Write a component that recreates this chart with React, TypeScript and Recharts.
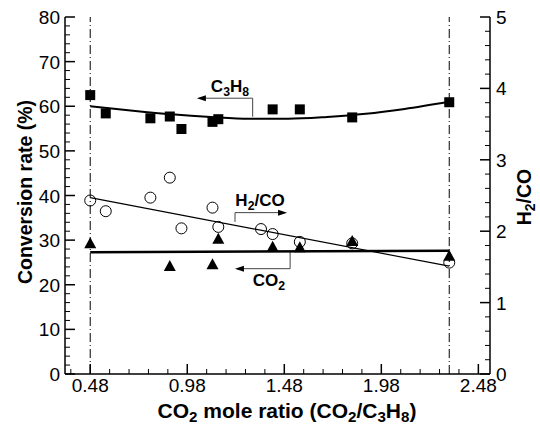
import { ComposedChart, XAxis, YAxis, Line, Scatter, ReferenceLine } from "recharts"

const sqRatio = [0.48, 0.56, 0.79, 0.89, 0.95, 1.11, 1.14, 1.42, 1.56, 1.83, 2.33]
const c3h8Conv = [62.5, 58.4, 57.3, 57.7, 54.9, 56.5, 57.1, 59.3, 59.3, 57.5, 60.9]

const circRatio = [0.48, 0.56, 0.79, 0.89, 0.95, 1.11, 1.14, 1.36, 1.42, 1.56, 1.83, 2.33]
const h2coRatio = [2.43, 2.28, 2.47, 2.75, 2.04, 2.33, 2.06, 2.03, 1.96, 1.85, 1.83, 1.56]

const triRatio = [0.48, 0.89, 1.11, 1.14, 1.42, 1.56, 1.83, 2.33]
const co2Conv = [29.3, 24.2, 24.6, 30.3, 28.5, 28.4, 29.8, 26.5]

// fitted curves as drawn
const c3h8FitX = [0.48, 0.7, 0.9, 1.1, 1.3, 1.5, 1.7, 1.9, 2.1, 2.33]
const c3h8FitY = [60.0, 59.0, 58.2, 57.6, 57.2, 57.2, 57.6, 58.3, 59.4, 61.0]
const h2coFitX = [0.48, 2.33]
const h2coFitY = [2.47, 1.51]
const co2FitX = [0.48, 2.33]
const co2FitY = [27.3, 27.6]

const refRatios = [0.48, 2.33]

const xMajor = [0.48, 0.98, 1.48, 1.98, 2.48]
const leftMajor = [0, 10, 20, 30, 40, 50, 60, 70, 80]
const rightMajor = [0, 1, 2, 3, 4, 5]

const X_DOMAIN: [number, number] = [0.35, 2.54]
const FONT = "'Liberation Sans', Arial, sans-serif"

// plot box in px (matches chart margins / axis sizes below)
const PL = 65, PT = 17, PW = 425, PH = 357
const sx = (v: number) => PL + ((v - X_DOMAIN[0]) / (X_DOMAIN[1] - X_DOMAIN[0])) * PW
const syL = (v: number) => PT + PH - (v / 80) * PH
const syR = (v: number) => PT + PH - (v / 5) * PH

const steps = (from: number, to: number, step: number) => {
	const out: number[] = []
	for (let v = from; v <= to + 1e-9; v += step) out.push(Math.round(v * 1000) / 1000)
	return out
}
const xTicks = steps(0.38, 2.54, 0.1)
const leftTicks = steps(0, 80, 2)
const rightTicks = steps(0, 5, 0.2)

const pts = (xs: number[], ys: number[]) => xs.map((x, i) => ({ x, y: ys[i] }))
const isMajor = (v: number, list: number[]) => list.some((m) => Math.abs(m - v) < 1e-6)

const TICK_FS = 19

const BottomTick = ({ x, y, payload }: any) => {
	const major = isMajor(payload.value, xMajor)
	return (
		<g>
			<line x1={x} y1={y} x2={x} y2={y - (major ? 10 : 5)} stroke="#000" strokeWidth={major ? 1.5 : 1} />
			{major && (
				<text x={x} y={y + 18} textAnchor="middle" fontSize={TICK_FS} fontFamily={FONT} fill="#000">
					{payload.value.toFixed(2)}
				</text>
			)}
		</g>
	)
}

const TopTick = ({ x, y, payload }: any) => {
	const major = isMajor(payload.value, xMajor)
	return <line x1={x} y1={y} x2={x} y2={y + (major ? 10 : 5)} stroke="#000" strokeWidth={major ? 1.5 : 1} />
}

const LeftTick = ({ x, y, payload }: any) => {
	const major = isMajor(payload.value, leftMajor)
	return (
		<g>
			<line x1={x} y1={y} x2={x + (major ? 10 : 5)} y2={y} stroke="#000" strokeWidth={major ? 1.5 : 1} />
			{major && (
				<text x={x - 5} y={y + 7} textAnchor="end" fontSize={TICK_FS} fontFamily={FONT} fill="#000">
					{payload.value}
				</text>
			)}
		</g>
	)
}

const RightTick = ({ x, y, payload }: any) => {
	const major = isMajor(payload.value, rightMajor)
	return (
		<g>
			<line x1={x} y1={y} x2={x - (major ? 10 : 5)} y2={y} stroke="#000" strokeWidth={major ? 1.5 : 1} />
			{major && (
				<text x={x + 6} y={y + 7} textAnchor="start" fontSize={TICK_FS} fontFamily={FONT} fill="#000">
					{payload.value}
				</text>
			)}
		</g>
	)
}

const Square = ({ cx, cy }: any) => <rect x={cx - 5} y={cy - 5} width={10} height={10} fill="#000" />
const Circle = ({ cx, cy }: any) => <circle cx={cx} cy={cy} r={5.5} fill="none" stroke="#000" strokeWidth={1} />
const Triangle = ({ cx, cy }: any) => (
	<polygon points={`${cx},${cy - 6} ${cx - 6},${cy + 5} ${cx + 6},${cy + 5}`} fill="#000" />
)

// parts starting with "_" are subscripts
const rich = (parts: string[], shift = 4) => {
	let down = false
	return parts.map((p, i) => {
		const sub = p.startsWith("_")
		const dy = sub && !down ? shift : !sub && down ? -shift : 0
		down = sub
		return (
			<tspan key={i} dy={dy} fontSize={sub ? "0.72em" : undefined}>
				{sub ? p.slice(1) : p}
			</tspan>
		)
	})
}

const Notes = () => {
	const ann = { stroke: "#444", strokeWidth: 1, fill: "none" }
	// C3H8 bracket
	const cY = syL(61.8), cX0 = sx(1.04), cX1 = sx(1.317), cYb = syL(57.65)
	// H2/CO bracket
	const hX0 = sx(1.226), hYb = syR(2.13), hY = syR(2.26), hX1 = sx(1.484)
	// CO2 bracket
	const oX1 = sx(1.51), oYb = syL(27.4), oY = syL(23.6), oX0 = sx(1.236)
	return (
		<g fontFamily={FONT} fontWeight="bold" fill="#000">
			<polyline points={`${cX0},${cY} ${cX1},${cY} ${cX1},${cYb}`} {...ann} />
			<polygon points={`${cX0 - 2},${cY} ${cX0 + 7},${cY - 3} ${cX0 + 7},${cY + 3}`} fill="#000" />
			<text x={sx(1.2)} y={syL(63.2)} textAnchor="middle" fontSize={17}>
				{rich(["C", "_3", "H", "_8"])}
			</text>

			<polyline points={`${hX0},${hYb} ${hX0},${hY} ${hX1},${hY}`} {...ann} />
			<polygon points={`${hX1 + 2},${hY} ${hX1 - 7},${hY - 3} ${hX1 - 7},${hY + 3}`} fill="#000" />
			<text x={sx(1.355)} y={206} textAnchor="middle" fontSize={17}>
				{rich(["H", "_2", "/CO"])}
			</text>

			<polyline points={`${oX1},${oYb} ${oX1},${oY} ${oX0},${oY}`} {...ann} />
			<polygon points={`${oX0 - 2},${oY} ${oX0 + 7},${oY - 3} ${oX0 + 7},${oY + 3}`} fill="#000" />
			<text x={269} y={286} textAnchor="middle" fontSize={17}>
				{rich(["CO", "_2"])}
			</text>

			<text transform="rotate(-90)" x={-192} y={32} textAnchor="middle" fontSize={19.5}>
				Conversion rate (%)
			</text>
			<text transform="rotate(-90)" x={-197} y={531} textAnchor="middle" fontSize={19.5}>
				{rich(["H", "_2", "/CO"])}
			</text>
			<text x={287} y={418} textAnchor="middle" fontSize={21}>
				{rich(["CO", "_2", " mole ratio (CO", "_2", "/C", "_3", "H", "_8", ")"])}
			</text>
		</g>
	)
}

const axisLine = { stroke: "#000", strokeWidth: 1.5 }

export default function App() {
	return (
		<div style={{ position: "absolute", left: 0, top: 0, background: "#fff" }}>
			<ComposedChart width={540} height={424} margin={{ top: PT, right: 0, bottom: 0, left: 0 }}>
				<XAxis
					dataKey="x"
					type="number"
					domain={X_DOMAIN}
					ticks={xTicks}
					interval={0}
					tickSize={0}
					tickMargin={0}
					tick={<BottomTick />}
					axisLine={axisLine}
					allowDataOverflow
					height={50}
				/>
				<XAxis
					xAxisId="top"
					orientation="top"
					type="number"
					domain={X_DOMAIN}
					ticks={xTicks}
					interval={0}
					tickSize={0}
					tickMargin={0}
					tick={<TopTick />}
					axisLine={axisLine}
					allowDataOverflow
					height={0}
				/>
				<YAxis
					yAxisId="left"
					type="number"
					domain={[0, 80]}
					ticks={leftTicks}
					interval={0}
					tickSize={0}
					tickMargin={0}
					tick={<LeftTick />}
					axisLine={axisLine}
					width={PL}
				/>
				<YAxis
					yAxisId="right"
					orientation="right"
					type="number"
					domain={[0, 5]}
					ticks={rightTicks}
					interval={0}
					tickSize={0}
					tickMargin={0}
					tick={<RightTick />}
					axisLine={axisLine}
					width={50}
				/>
				{refRatios.map((r) => (
					<ReferenceLine key={r} x={r} yAxisId="left" stroke="#000" strokeWidth={1} strokeDasharray="9 3 1 3" />
				))}
				<Line
					yAxisId="left"
					data={pts(c3h8FitX, c3h8FitY)}
					dataKey="y"
					type="monotone"
					stroke="#000"
					strokeWidth={2}
					dot={false}
					isAnimationActive={false}
				/>
				<Line
					yAxisId="right"
					data={pts(h2coFitX, h2coFitY)}
					dataKey="y"
					type="linear"
					stroke="#000"
					strokeWidth={1.2}
					dot={false}
					isAnimationActive={false}
				/>
				<Line
					yAxisId="left"
					data={pts(co2FitX, co2FitY)}
					dataKey="y"
					type="linear"
					stroke="#000"
					strokeWidth={2.5}
					dot={false}
					isAnimationActive={false}
				/>
				<Scatter yAxisId="left" data={pts(sqRatio, c3h8Conv)} dataKey="y" shape={<Square />} isAnimationActive={false} />
				<Scatter yAxisId="right" data={pts(circRatio, h2coRatio)} dataKey="y" shape={<Circle />} isAnimationActive={false} />
				<Scatter yAxisId="left" data={pts(triRatio, co2Conv)} dataKey="y" shape={<Triangle />} isAnimationActive={false} />
				<Notes />
			</ComposedChart>
		</div>
	)
}
